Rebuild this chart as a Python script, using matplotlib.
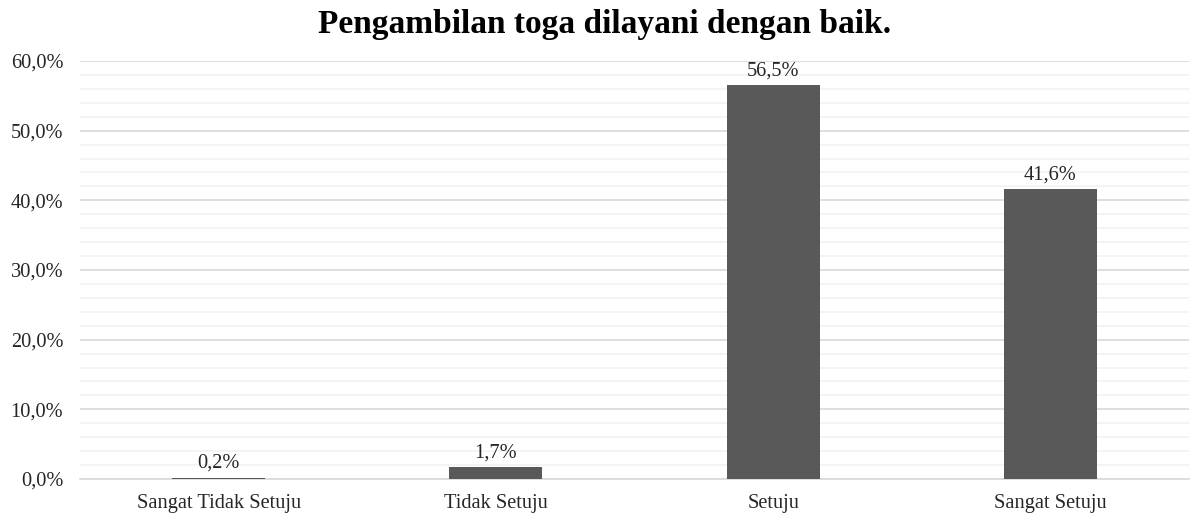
import numpy as np
import matplotlib.pyplot as plt
from matplotlib.ticker import MultipleLocator, FuncFormatter

categories = ['Sangat Tidak Setuju', 'Tidak Setuju', 'Setuju', 'Sangat Setuju']
values = [0.2, 1.7, 56.5, 41.6]
title = 'Pengambilan toga dilayani dengan baik.'

plt.rcParams['font.family'] = ['Liberation Serif', 'DejaVu Serif']

fig = plt.figure(figsize=(11.9, 5.15), dpi=100)
ax = fig.add_axes([0.0672, 0.0699, 0.932, 0.8117])

x = np.arange(len(categories))
bars = ax.bar(x, values, width=0.335, color='#595959', zorder=3)
for b, v in zip(bars, values):
  ax.text(b.get_x() + b.get_width()/2, v + 0.7, f'{v:.1f}%'.replace('.', ','),
          ha='center', va='bottom', fontsize=14.7, color='#262626')

ax.set_xlim(-0.5, len(categories) - 0.5)
ax.set_ylim(0, 60)
ax.yaxis.set_major_locator(MultipleLocator(10))
ax.yaxis.set_minor_locator(MultipleLocator(2))
ax.yaxis.set_major_formatter(FuncFormatter(lambda v, p: f'{v:.1f}%'.replace('.', ',')))
ax.grid(axis='y', which='major', color='#d9d9d9', linewidth=1.2, zorder=0)
ax.grid(axis='y', which='minor', color='#f2f2f2', linewidth=1.2, zorder=0)
ax.set_xticks(x)
ax.set_xticklabels(categories)
ax.tick_params(axis='both', which='both', length=0, labelsize=14.7, colors='#262626')
ax.tick_params(axis='x', pad=11)
ax.tick_params(axis='y', pad=12)
for s in ['top', 'right', 'left']:
  ax.spines[s].set_visible(False)
ax.spines['bottom'].set_color('#d9d9d9')
ax.spines['bottom'].set_linewidth(1.2)

fig.suptitle(title, fontsize=24, fontweight='bold', x=0.508, y=0.982)

fig.savefig('out.png', dpi=100)
